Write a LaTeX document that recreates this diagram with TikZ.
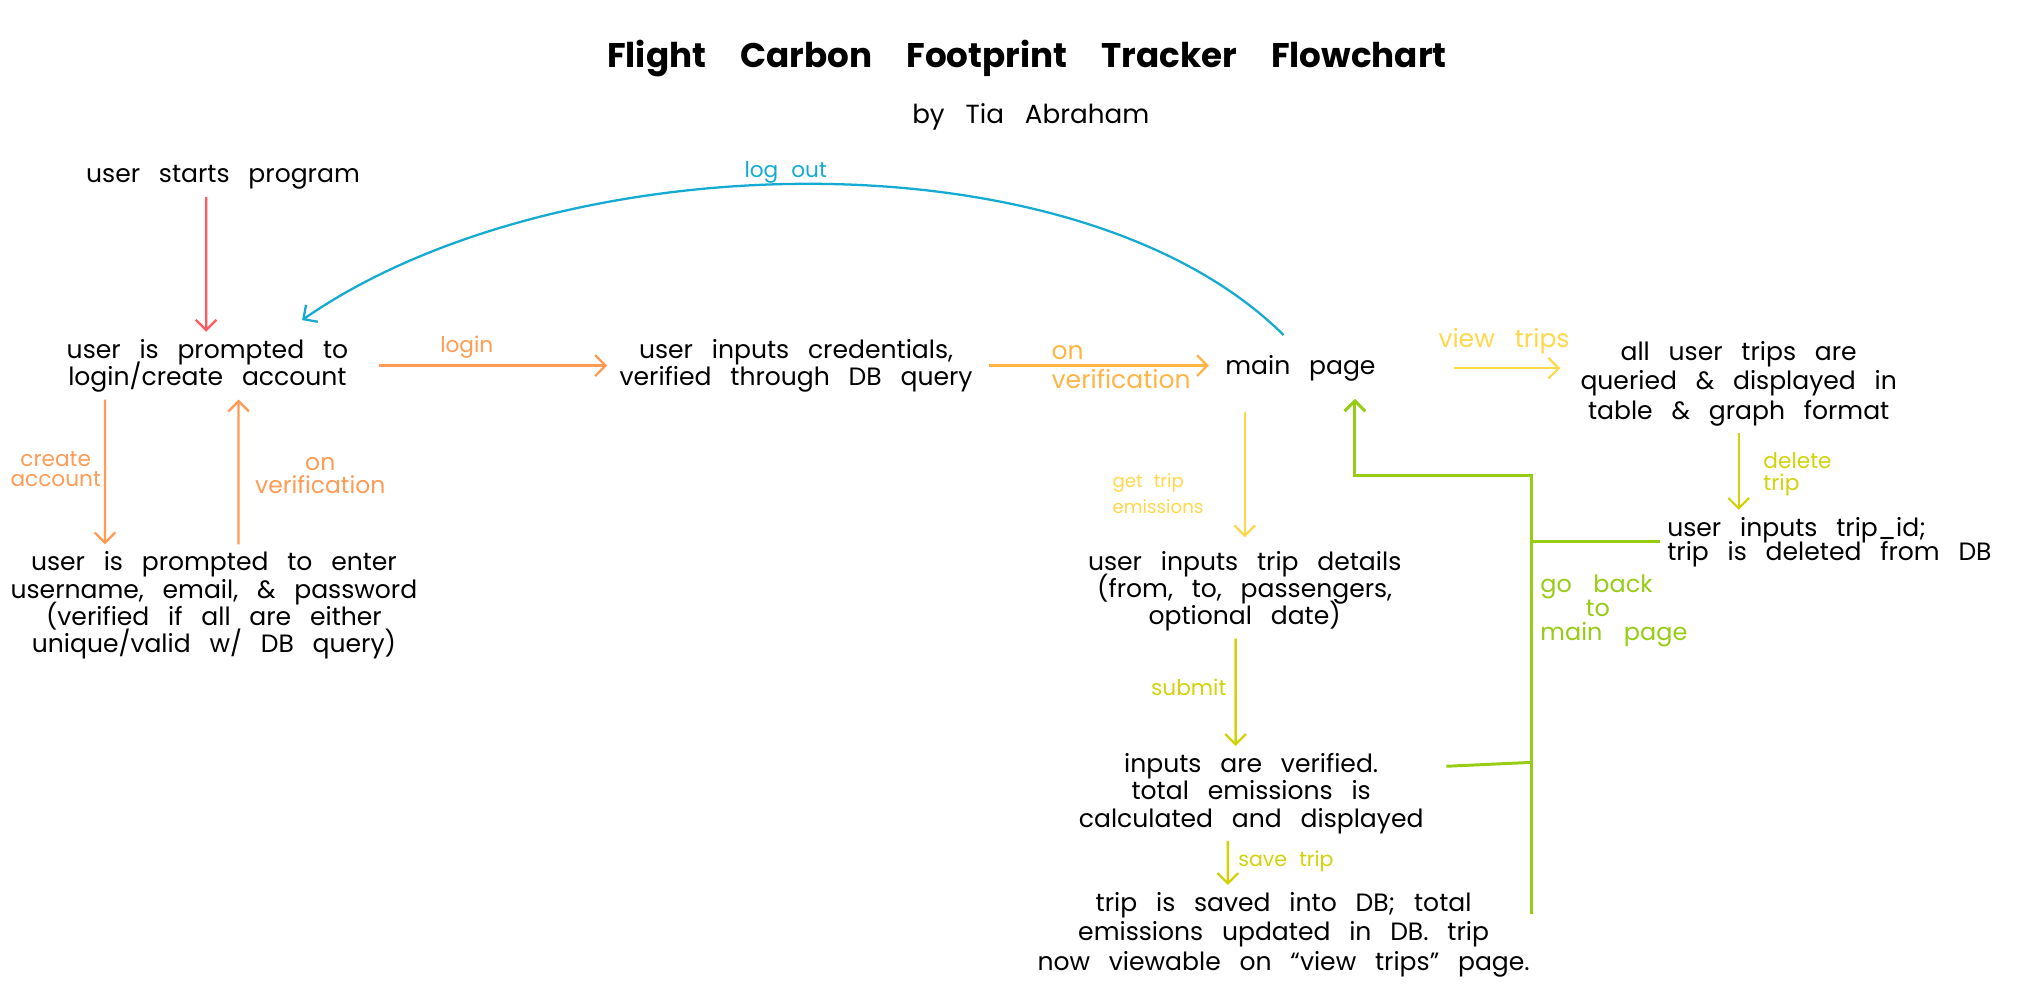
\documentclass[tikz,border=0pt]{standalone}
\usepackage{fontspec}
\setmainfont{Poppins}
\usetikzlibrary{positioning,arrows.meta,calc}
\definecolor{startred}{RGB}{255, 90, 95}
\definecolor{loginorange}{RGB}{255, 155, 85}
\definecolor{verifyorange}{RGB}{255, 180, 70}
\definecolor{tripyellow}{RGB}{255, 215, 75}
\definecolor{limeyellow}{RGB}{210, 210, 10}
\definecolor{backgreen}{RGB}{150, 205, 20}
\definecolor{logoutblue}{RGB}{20, 170, 210}
\newcommand\wordgap[1]{\spaceskip #1\relax\lineskiplimit -100pt\relax}

\begin{document}
\begin{tikzpicture}[
    x=0.02cm, y=-0.02cm,
    >={Straight Barb[length=1.6mm,width=3.2mm]},
    step box/.style={
        align=center,
        inner sep=3pt,
        font={\fontsize{11}{12}\selectfont\wordgap{0.75em}}
    },
    flow label/.style={
        align=center,
        inner sep=1pt,
        font={\fontsize{9.5}{10.5}\selectfont\wordgap{0.6em}}
    },
    flow/.style={
        ->,
        line width=1pt
    },
    return line/.style={
        line width=1.3pt,
        draw=backgreen
    }
]

    \useasboundingbox (0,0) rectangle (1568,771);

    % 1. Title
    \node[font={\fontsize{15}{17}\selectfont\bfseries\wordgap{1em}}] (title) at (792,45) {Flight Carbon Footprint Tracker Flowchart};
    \node[step box, font={\fontsize{11.5}{13}\selectfont\wordgap{0.8em}}] (byline) at (795,90) {by Tia Abraham};

    % 2. Account flow
    \node[step box] (start) at (172,137) {user starts program};
    \node[step box] (prompt) at (160,282) {user is prompted to\\login/create account};
    \node[step box] (signup) at (165,467) {user is prompted to enter\\username, email, \& password\\(verified if all are either\\unique/valid w/ DB query)};
    \node[step box] (cred) at (614,282) {user inputs credentials,\\verified through DB query};

    % 3. Main page and trips
    \node[step box] (main) at (1003,284) {main page};
    \node[step box, font={\fontsize{11}{12.8}\selectfont\wordgap{0.75em}}] (alltrips) at (1341,296) {all user trips are\\queried \& displayed in\\table \& graph format};
    \node[step box, align=left, font={\fontsize{11}{10.5}\selectfont\wordgap{0.75em}}] (delete) at (1411,418) {user inputs trip\_id;\\trip is deleted from DB};

    % 4. Emissions flow
    \node[step box] (details) at (960,456) {user inputs trip details\\(from, to, passengers,\\optional date)};
    \node[step box] (verified) at (965,612) {inputs are verified.\\total emissions is\\calculated and displayed};
    \node[step box, font={\fontsize{11}{13}\selectfont\wordgap{0.75em}}] (saved) at (990,721) {trip is saved into DB; total\\emissions updated in DB. trip\\now viewable on “view trips” page.};

    % Connector labels
    \node[flow label, text=loginorange] (loginlbl) at (360,268) {login};
    \node[flow label, text=loginorange, font={\fontsize{9.5}{9}\selectfont\wordgap{0.6em}}] (createlbl) at (43,362) {create\\account};
    \node[flow label, text=loginorange, font={\fontsize{10.3}{10}\selectfont\wordgap{0.6em}}] (verlbl) at (247,367) {on\\verification};
    \node[flow label, text=verifyorange, align=left, anchor=west, font={\fontsize{11}{12.5}\selectfont\wordgap{0.6em}}] (verlbltwo) at (809,283) {on\\verification};
    \node[flow label, text=logoutblue] (logoutlbl) at (606,133) {log out};
    \node[flow label, text=tripyellow, font={\fontsize{11}{12}\selectfont\wordgap{0.8em}}] (viewlbl) at (1160,263) {view trips};
    \node[flow label, text=tripyellow, align=left, anchor=west, font={\fontsize{8}{11.5}\selectfont\wordgap{0.6em}}] (getlbl) at (856,381) {get trip\\emissions};
    \node[flow label, text=limeyellow, align=left, anchor=west, font={\fontsize{9.5}{9.5}\selectfont\wordgap{0.6em}}] (deletelbl) at (1358,366) {delete\\trip};
    \node[flow label, text=limeyellow, anchor=east] (submitlbl) at (948,530) {submit};
    \node[flow label, text=limeyellow, anchor=west, font={\fontsize{9}{10}\selectfont\wordgap{0.6em}}] (savelbl) at (953,664) {save trip};
    \node[flow label, text=backgreen, align=left, anchor=west, font={\fontsize{10.5}{10.5}\selectfont\wordgap{0.9em}}] (backlbl) at (1186,471) {go back\\\hspace*{1.9em}to\\main page};

    % Connections
    \draw[flow, startred] ([xshift=-0.26cm]start.south) -- ([xshift=-0.02cm]prompt.north);
    \draw[flow, loginorange, shorten <=0.36cm, shorten >=0.08cm] (prompt.east) -- (prompt.east -| cred.west);
    \draw[flow, loginorange] ([xshift=-1.58cm]prompt.south) -- ([xshift=-1.68cm]signup.north);
    \draw[flow, loginorange] ([xshift=0.38cm]signup.north) -- ([xshift=0.48cm]prompt.south);
    \draw[flow, verifyorange, shorten <=0.14cm, shorten >=0.14cm] (cred.east) -- (cred.east -| main.west);
    \draw[flow, logoutblue] ([shift={(-13,-10)}]main.north) .. controls (830,100) and (430,110) .. ([shift={(73,-9)}]prompt.north);

    \draw[flow, tripyellow, shorten <=1.1cm, shorten >=0.2cm] (main.east) -- (main.east -| alltrips.west);
    \draw[flow, limeyellow] (alltrips.south) -- (alltrips.south |- delete.north);
    \draw[flow, tripyellow, shorten <=0.36cm, shorten >=0.1cm] (details.north |- main.south) -- (details.north);
    \draw[flow, limeyellow] ([xshift=-0.14cm]details.south) -- ([xshift=-0.24cm]verified.north);
    \draw[flow, limeyellow] ([xshift=-0.36cm]verified.south) -- ([xshift=-0.86cm]saved.north);

    % Return to main page
    \coordinate (busend) at (1181,705);
    \coordinate (bustop) at (1181,367);
    \coordinate (busmid) at (1181,588);
    \draw[return line, ->] (busend) -- (bustop) -| ([xshift=0.84cm, yshift=-0.16cm]main.south);
    \draw[return line] (delete.west) -- (delete.west -| bustop);
    \draw[return line] ($(verified.east)+(12,-21)$) -- (busmid);

\end{tikzpicture}
\end{document}
